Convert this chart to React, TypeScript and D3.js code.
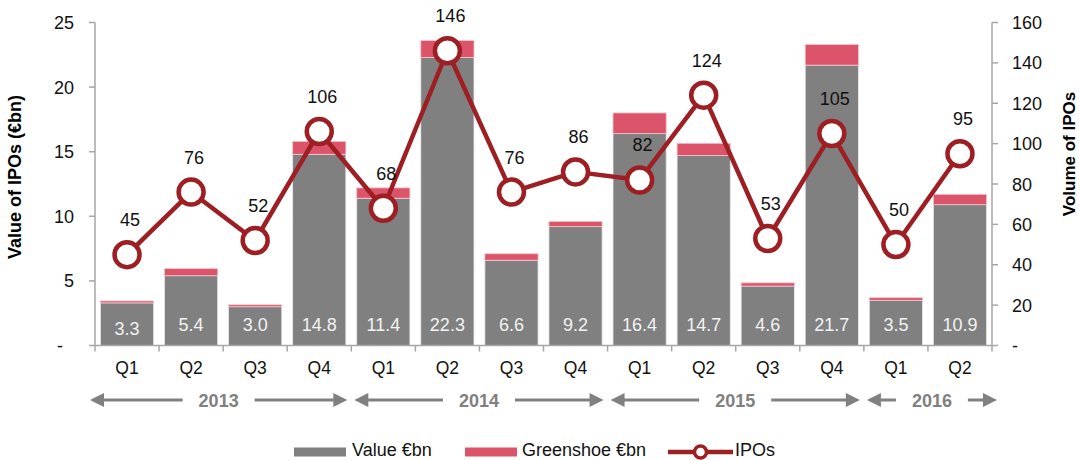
import React, { useRef, useEffect } from 'react';
import * as d3 from 'd3';

const quarters = ['Q1', 'Q2', 'Q3', 'Q4', 'Q1', 'Q2', 'Q3', 'Q4', 'Q1', 'Q2', 'Q3', 'Q4', 'Q1', 'Q2'];
const years = ['2013', '2013', '2013', '2013', '2014', '2014', '2014', '2014', '2015', '2015', '2015', '2015', '2016', '2016'];
const valueBn = [3.3, 5.4, 3.0, 14.8, 11.4, 22.3, 6.6, 9.2, 16.4, 14.7, 4.6, 21.7, 3.5, 10.9];
const greenshoeBn = [0.15, 0.55, 0.15, 1.0, 0.8, 1.3, 0.5, 0.4, 1.6, 0.95, 0.25, 1.6, 0.2, 0.8];
const ipoCount = [45, 76, 52, 106, 68, 146, 76, 86, 82, 124, 53, 105, 50, 95];
const leftTicks = [0, 5, 10, 15, 20, 25];
const rightTicks = [0, 20, 40, 60, 80, 100, 120, 140, 160];

const W = 1079;
const H = 460;
const FONT = '"Liberation Sans", Arial, sans-serif';
const GREY = '#808080';
const PINK = '#dc546a';
const RED = '#9e1f23';
const AXIS = '#a6a6a6';

export default function App() {
  const ref = useRef<SVGSVGElement>(null);

  useEffect(() => {
    const svg = d3.select(ref.current);
    svg.selectAll('*').remove();

    const x = d3.scaleBand<number>()
      .domain(d3.range(quarters.length))
      .range([95, 992])
      .paddingInner(0.17)
      .paddingOuter(0.085);
    const yL = d3.scaleLinear().domain([0, 25]).range([345.5, 22.5]);
    const yR = d3.scaleLinear().domain([0, 160]).range([345.5, 22.5]);
    const step = x.step();
    const bandStart = (i: number) => (x(i) as number) - x.paddingInner() * step / 2;

    // ---- bars ----
    const bars = svg.append('g');
    bars.selectAll('rect.val')
      .data(valueBn)
      .join('rect')
      .attr('x', (d, i) => x(i) as number)
      .attr('width', x.bandwidth())
      .attr('y', d => yL(d))
      .attr('height', d => yL(0) - yL(d))
      .attr('fill', GREY)
      .attr('stroke', '#e8e8e8')
      .attr('stroke-width', 0.8);
    bars.selectAll('rect.gs')
      .data(greenshoeBn)
      .join('rect')
      .attr('x', (d, i) => x(i) as number)
      .attr('width', x.bandwidth())
      .attr('y', (d, i) => yL(valueBn[i] + d))
      .attr('height', (d, i) => yL(valueBn[i]) - yL(valueBn[i] + d))
      .attr('fill', PINK)
      .attr('stroke', '#f2c4cc')
      .attr('stroke-width', 0.8);
    bars.selectAll('text')
      .data(valueBn)
      .join('text')
      .attr('x', (d, i) => (x(i) as number) + x.bandwidth() / 2)
      .attr('y', (d, i) => (i === 0 ? 334.5 : 330.5))
      .attr('text-anchor', 'middle')
      .attr('fill', '#f2f2f2')
      .style('font', `18px ${FONT}`)
      .text(d => d.toFixed(1));

    // ---- axes ----
    const axes = svg.append('g').attr('stroke', AXIS).attr('stroke-width', 1.5);
    axes.append('line').attr('x1', 95).attr('x2', 95).attr('y1', yL(25)).attr('y2', yL(0));
    axes.append('line').attr('x1', 992).attr('x2', 992).attr('y1', yR(160)).attr('y2', yR(0));
    axes.append('line').attr('x1', 95).attr('x2', 992).attr('y1', yL(0)).attr('y2', yL(0));
    axes.selectAll('line.lt').data(leftTicks).join('line')
      .attr('x1', 89).attr('x2', 95).attr('y1', d => yL(d)).attr('y2', d => yL(d));
    axes.selectAll('line.rt').data(rightTicks).join('line')
      .attr('x1', 992).attr('x2', 998).attr('y1', d => yR(d)).attr('y2', d => yR(d));
    axes.selectAll('line.bt').data(d3.range(quarters.length + 1)).join('line')
      .attr('x1', d => 95 + d * step).attr('x2', d => 95 + d * step)
      .attr('y1', yL(0)).attr('y2', yL(0) + 6);

    const lbl = svg.append('g').style('font', `18px ${FONT}`).attr('fill', '#111');
    lbl.selectAll('text.l').data(leftTicks).join('text')
      .attr('x', d => (d === 0 ? 63 : 74))
      .attr('y', d => yL(d) + 6.5)
      .attr('text-anchor', 'end')
      .text(d => (d === 0 ? '-' : String(d)));
    lbl.selectAll('text.r').data(rightTicks).join('text')
      .attr('x', 1012)
      .attr('y', d => yR(d) + 6.5)
      .text(d => (d === 0 ? '-' : String(d)));
    lbl.selectAll('text.q').data(quarters).join('text')
      .attr('x', (d, i) => (x(i) as number) + x.bandwidth() / 2)
      .attr('y', 374)
      .attr('text-anchor', 'middle')
      .style('font-size', '17.5px')
      .text(d => d);

    svg.append('text')
      .attr('transform', `translate(21,177) rotate(-90)`)
      .attr('text-anchor', 'middle')
      .style('font', `bold 18px ${FONT}`)
      .text('Value of IPOs (€bn)');
    svg.append('text')
      .attr('transform', `translate(1075,154) rotate(-90)`)
      .attr('text-anchor', 'middle')
      .style('font', `bold 17px ${FONT}`)
      .text('Volume of IPOs');

    // ---- year arrows ----
    const yearList = Array.from(new Set(years));
    const yg = svg.append('g');
    yearList.forEach(yr => {
      const idx = years.map((v, i) => (v === yr ? i : -1)).filter(i => i >= 0);
      const first = idx[0];
      const last = idx[idx.length - 1];
      const x0 = first === 0 ? bandStart(first) - 5 : bandStart(first) + 3;
      const x1 = last === quarters.length - 1 ? bandStart(last) + step + 5 : bandStart(last) + step - 4;
      const cx = (x0 + x1) / 2;
      const ay = 400;
      const gap = 36;
      const head = 14;
      yg.append('line').attr('x1', x0 + head - 1).attr('x2', cx - gap).attr('y1', ay).attr('y2', ay)
        .attr('stroke', GREY).attr('stroke-width', 3);
      yg.append('line').attr('x1', cx + gap).attr('x2', x1 - head + 1).attr('y1', ay).attr('y2', ay)
        .attr('stroke', GREY).attr('stroke-width', 3);
      yg.append('path').attr('d', `M${x0},${ay}L${x0 + head},${ay - 7}L${x0 + head},${ay + 7}Z`).attr('fill', GREY);
      yg.append('path').attr('d', `M${x1},${ay}L${x1 - head},${ay - 7}L${x1 - head},${ay + 7}Z`).attr('fill', GREY);
      yg.append('text').attr('x', cx).attr('y', ay + 6.5).attr('text-anchor', 'middle')
        .attr('fill', GREY).style('font', `bold 18px ${FONT}`).text(yr);
    });

    // ---- IPO line ----
    const line = d3.line<number>()
      .x((d, i) => (x(i) as number) + x.bandwidth() / 2)
      .y(d => yR(d));
    const lg = svg.append('g');
    lg.append('path').datum(ipoCount).attr('d', line)
      .attr('fill', 'none').attr('stroke', RED).attr('stroke-width', 4.5).attr('stroke-linejoin', 'round');
    lg.selectAll('circle').data(ipoCount).join('circle')
      .attr('cx', (d, i) => (x(i) as number) + x.bandwidth() / 2)
      .attr('cy', d => yR(d))
      .attr('r', 12.5)
      .attr('fill', 'white')
      .attr('stroke', RED)
      .attr('stroke-width', 4.5);
    lg.selectAll('text').data(ipoCount).join('text')
      .attr('x', (d, i) => (x(i) as number) + x.bandwidth() / 2 + 3)
      .attr('y', d => yR(d) - 28.5)
      .attr('text-anchor', 'middle')
      .attr('fill', '#111')
      .style('font', `18px ${FONT}`)
      .text(d => d);

    // ---- legend ----
    const leg = svg.append('g').style('font', `18px ${FONT}`).attr('fill', '#111');
    leg.append('rect').attr('x', 294).attr('y', 447.5).attr('width', 52).attr('height', 9).attr('fill', GREY);
    leg.append('text').attr('x', 352).attr('y', 456).text('Value €bn');
    leg.append('rect').attr('x', 465).attr('y', 447.5).attr('width', 52).attr('height', 9).attr('fill', PINK);
    leg.append('text').attr('x', 522).attr('y', 456).text('Greenshoe €bn');
    leg.append('line').attr('x1', 668).attr('x2', 733).attr('y1', 452).attr('y2', 452)
      .attr('stroke', RED).attr('stroke-width', 4.5);
    leg.append('circle').attr('cx', 700.5).attr('cy', 452).attr('r', 6)
      .attr('fill', 'white').attr('stroke', RED).attr('stroke-width', 3.5);
    leg.append('text').attr('x', 735).attr('y', 456).text('IPOs');
  }, []);

  return (
    <svg
      ref={ref}
      width={W}
      height={H}
      viewBox={`0 0 ${W} ${H}`}
      style={{ position: 'absolute', left: 0, top: 0, background: 'white' }}
    />
  );
}
